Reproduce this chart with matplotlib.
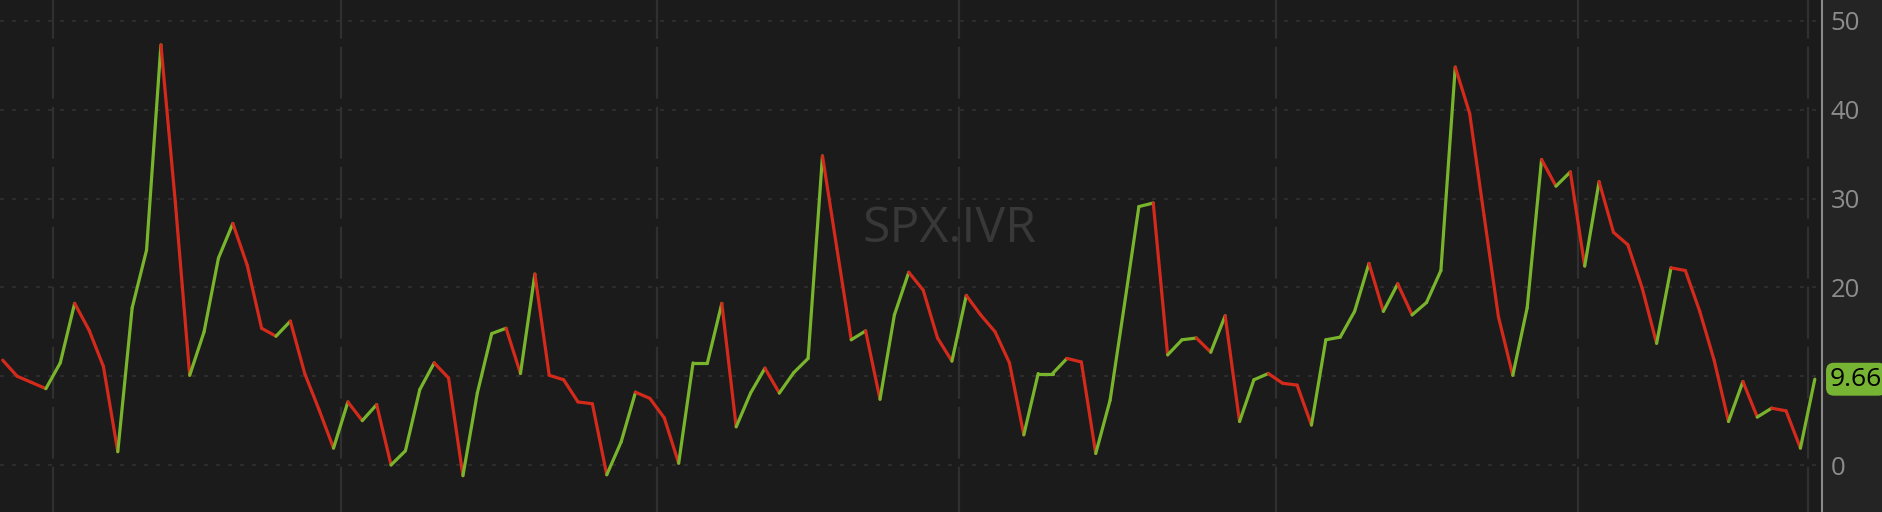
import matplotlib
matplotlib.use("Agg")
import matplotlib.pyplot as plt
import matplotlib.transforms as mtransforms
from matplotlib.collections import LineCollection
import numpy as np

# ---- data ----
ivr_values = [
    11.8, 10.0, 9.3, 8.6, 11.5, 18.2, 15.2, 11.1, 1.5, 17.7,
    24.2, 47.3, 29.6, 10.1, 15.0, 23.3, 27.2, 22.5, 15.4, 14.5,
    16.2, 10.3, 6.2, 1.9, 7.1, 5.0, 6.8, 0.0, 1.6, 8.5,
    11.5, 9.8, -1.2, 8.1, 14.8, 15.4, 10.3, 21.5, 10.1, 9.6,
    7.1, 6.9, -1.1, 2.6, 8.2, 7.5, 5.3, 0.2, 11.5, 11.5,
    18.2, 4.3, 8.1, 10.9, 8.1, 10.4, 12.0, 34.8, 24.4, 14.1,
    15.1, 7.4, 16.9, 21.7, 19.7, 14.3, 11.7, 19.1, 16.9, 15.0,
    11.5, 3.4, 10.3, 10.3, 12.0, 11.6, 1.3, 7.3, 18.1, 29.1,
    29.5, 12.4, 14.1, 14.3, 12.7, 16.8, 4.9, 9.6, 10.3, 9.2,
    9.0, 4.5, 14.1, 14.4, 17.3, 22.7, 17.3, 20.4, 16.9, 18.3,
    21.9, 44.8, 39.6, 28.1, 16.7, 10.1, 17.7, 34.4, 31.4, 33.0,
    22.4, 31.9, 26.2, 24.8, 19.9, 13.7, 22.2, 21.9, 17.3, 11.8,
    4.9, 9.4, 5.4, 6.4, 6.1, 1.9, 9.66,
]
month_breaks = [3.5, 23.5, 45.5, 66.5, 88.5, 109.5, 125.5]
y_ticks = [0, 10, 20, 30, 40, 50]
y_tick_labels = ["0", "", "20", "30", "40", "50"]  # "10" is hidden by the last-value tag
symbol = "SPX.IVR"
last_label = "9.66"

# ---- style ----
BG = "#1b1b1b"
PANEL = "#242424"
GREEN = "#79b52c"
RED = "#d42a1b"
GRID = "#303030"
TICK = "#8c8c8c"

W, H, DPI = 1882, 512, 100
fig = plt.figure(figsize=(W / DPI, H / DPI), dpi=DPI, facecolor=PANEL)
ax = fig.add_axes([0, 0, 1822 / W, 1])
ax.set_facecolor(BG)

x = np.arange(len(ivr_values))
y = np.array(ivr_values)

# colored segments: green when rising, red when falling
pts = np.column_stack([x, y]).reshape(-1, 1, 2)
segs = np.concatenate([pts[:-1], pts[1:]], axis=1)
colors = [GREEN if y[i + 1] >= y[i] else RED for i in range(len(y) - 1)]
lc = LineCollection(segs, colors=colors, linewidths=2.3, capstyle="round",
                    joinstyle="round", zorder=3)
ax.add_collection(lc)

ax.set_xlim(-0.19, 126.5)
ax.set_ylim(-5.29, 52.36)

# grid lines
for t in y_ticks:
    ax.axhline(t, color=GRID, lw=1.2, ls=(0, (2.4, 4.8)), zorder=1)
for mb in month_breaks:
    ax.axvline(mb, color=GRID, lw=1.6, ls=(3, (23.4, 3.6)), zorder=1)

# watermark
ax.text(0.521, 0.552, symbol, transform=ax.transAxes, ha="center", va="center",
        fontsize=36, color="#383838", family=["Open Sans", "DejaVu Sans"], zorder=0)

# right axis
ax.yaxis.tick_right()
ax.set_yticks(y_ticks)
ax.set_yticklabels(y_tick_labels)
ax.tick_params(axis="y", length=0, pad=6, labelsize=18.5, labelcolor=TICK)
for lab in ax.get_yticklabels():
    lab.set_family(["Open Sans", "DejaVu Sans"])
ax.set_xticks([])
for s in ["top", "left", "bottom"]:
    ax.spines[s].set_visible(False)
ax.spines["right"].set_color("#8a8a8a")
ax.spines["right"].set_linewidth(1.5)

# last value label
trans = mtransforms.blended_transform_factory(ax.transAxes, ax.transData)
ax.text(1.0 + 8 / 1822, y[-1], last_label, transform=trans, ha="left", va="center",
        fontsize=19, color="black", family=["Open Sans", "DejaVu Sans"],
        bbox=dict(boxstyle="round,pad=0.15,rounding_size=0.3", fc="#78b434", ec="none"),
        clip_on=False, zorder=5)

fig.savefig("out.png", dpi=DPI, facecolor=PANEL)
